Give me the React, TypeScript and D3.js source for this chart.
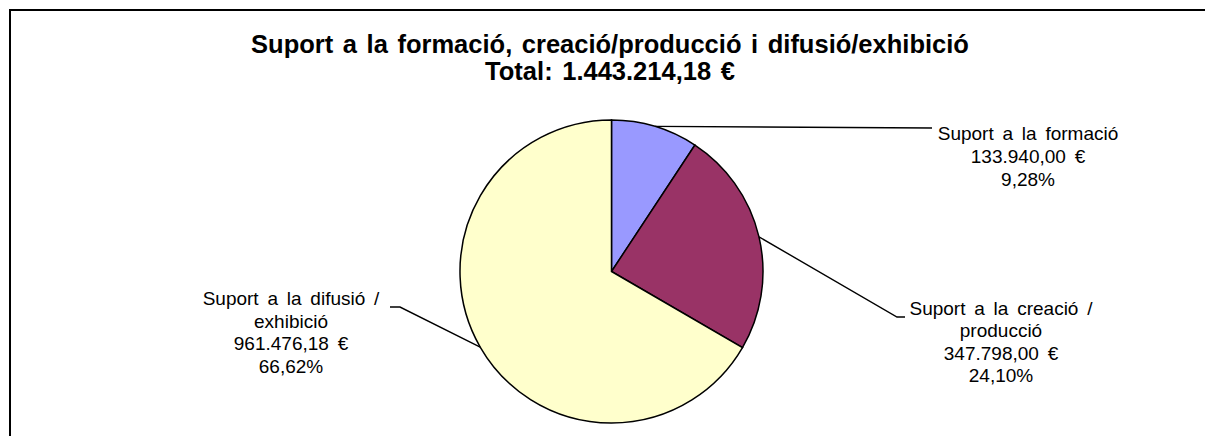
import React from "react";
import * as d3 from "d3";

const categories = ["Suport a la formació", "Suport a la creació / producció", "Suport a la difusió / exhibició"];
const values = [133940.0, 347798.0, 961476.18];
const valueLabels = ["133.940,00 €", "347.798,00 €", "961.476,18 €"];
const percentLabels = ["9,28%", "24,10%", "66,62%"];
const labelLines = [
  ["Suport a la formació"],
  ["Suport a la creació /", "producció"],
  ["Suport a la difusió /", "exhibició"],
];
const titleLines = ["Suport a la formació, creació/producció i difusió/exhibició", "Total: 1.443.214,18 €"];
const colors = ["#9999FF", "#993366", "#FFFFCC"];

// layout (not data)
const W = 1205, H = 436;
const cx = 611.5, cy = 271.5, R = 151.5;
const labelLayout = [
  { elbow: null as null | [number, number], end: [932, 128], tx: 1028, ty: 139.5, lh: 23 },
  { elbow: [897, 317], end: [905, 317], tx: 1001, ty: 315, lh: 22.3 },
  { elbow: [400, 307], end: [390, 307], tx: 291, ty: 305, lh: 22.5 },
];
const FONT = "'Liberation Sans', Arial, sans-serif";

export default function App() {
  const pie = d3.pie<number>().sort(null).value((d) => d);
  const arcs = pie(values);
  const arcGen = d3.arc<d3.PieArcDatum<number>>().innerRadius(0).outerRadius(R);
  return (
    <svg width={W} height={H} style={{ position: "absolute", left: 0, top: 0, background: "#fff" }}>
      <path d={`M10,${H + 5} L10,10 L${W + 5},10`} fill="none" stroke="#000" strokeWidth={2} />
      <g fontFamily={FONT} fontWeight="bold" fontSize={25.5} textAnchor="middle" fill="#000">
        {titleLines.map((t, i) => (
          <text key={i} x={610} y={53 + i * 27} wordSpacing={2.5}>{t}</text>
        ))}
      </g>
      <g transform={`translate(${cx},${cy})`}>
        {arcs.map((a, i) => (
          <path key={i} d={arcGen(a) || ""} fill={colors[i]} stroke="#000" strokeWidth={1.5} />
        ))}
      </g>
      {arcs.map((a, i) => {
        const mid = (a.startAngle + a.endAngle) / 2;
        const sx = cx + R * Math.sin(mid);
        const sy = cy - R * Math.cos(mid);
        const L = labelLayout[i];
        const pts: [number, number][] = [[sx, sy]];
        if (L.elbow) pts.push(L.elbow as [number, number]);
        pts.push(L.end as [number, number]);
        const lines = [...labelLines[i], valueLabels[i], percentLabels[i]];
        return (
          <g key={i}>
            <path d={d3.line()(pts) || ""} fill="none" stroke="#000" strokeWidth={1.4} />
            <g fontFamily={FONT} fontSize={19} textAnchor="middle" fill="#000">
              {lines.map((t, j) => (
                <text key={j} x={L.tx} y={L.ty + j * L.lh} wordSpacing={3.5}>{t}</text>
              ))}
            </g>
          </g>
        );
      })}
    </svg>
  );
}
